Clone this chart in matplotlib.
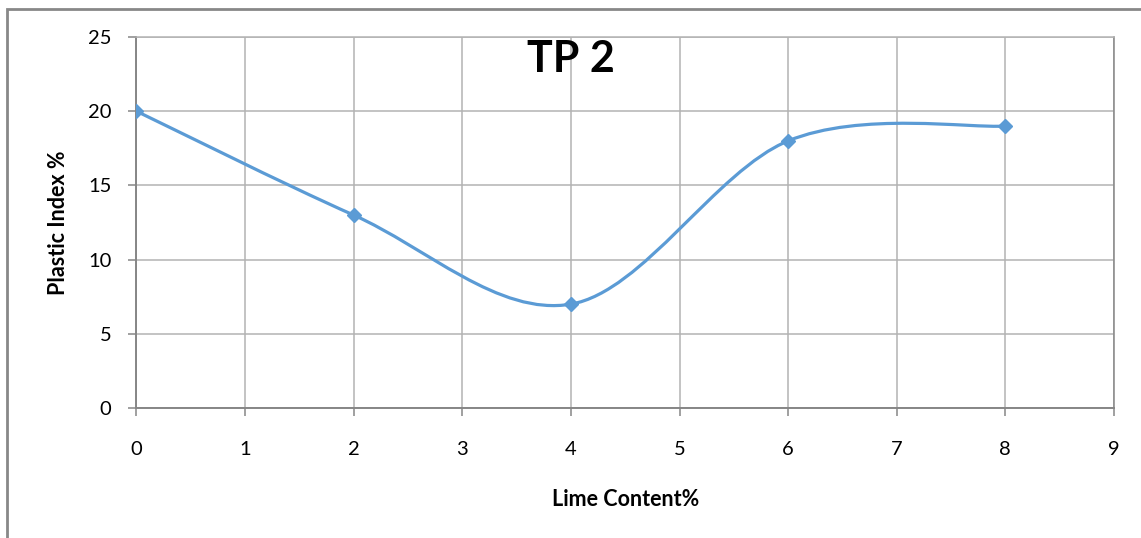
import numpy as np
import matplotlib
matplotlib.use("Agg")
import matplotlib.pyplot as plt
from matplotlib.path import Path
from matplotlib.patches import PathPatch, Rectangle

lime = [0, 2, 4, 6, 8]
plastic_index = [20, 13, 7, 18, 19]
x_ticks = list(range(0, 10))
y_ticks = [0, 5, 10, 15, 20, 25]

plt.rcParams['font.family'] = ['Lato', 'DejaVu Sans']

line_color = '#5B9BD5'
grid_color = '#B3B3B3'
axis_color = '#868686'


def smooth_path(xs, ys):
    # Excel-style smoothed line: cubic Bezier segments with Catmull-Rom control points
    pts = np.column_stack([xs, ys]).astype(float)
    n = len(pts)
    verts = [pts[0]]
    codes = [Path.MOVETO]
    for i in range(n - 1):
        p0 = pts[max(i - 1, 0)]
        p1 = pts[i]
        p2 = pts[i + 1]
        p3 = pts[min(i + 2, n - 1)]
        c1 = p1 + (p2 - p0) / 6.0
        c2 = p2 - (p3 - p1) / 6.0
        verts += [c1, c2, p2]
        codes += [Path.CURVE4] * 3
    return Path(verts, codes)


fig = plt.figure(figsize=(11.41, 5.38), dpi=100)
ax = fig.add_axes([0.1196, 0.2416, 0.8567, 0.6896])

patch = PathPatch(smooth_path(lime, plastic_index), fill=False,
                  edgecolor=line_color, linewidth=2.3, capstyle='round',
                  joinstyle='round', zorder=3)
ax.add_patch(patch)
ax.plot(lime, plastic_index, linestyle='none', marker='D', markersize=7,
        color=line_color, zorder=4)

ax.set_xlim(0, 9)
ax.set_ylim(0, 25)
ax.set_xticks(x_ticks)
ax.set_yticks(y_ticks)
ax.grid(True, color=grid_color, linewidth=1.1)
ax.set_axisbelow(True)

for side in ['top', 'right']:
    ax.spines[side].set_color(grid_color)
    ax.spines[side].set_linewidth(1.1)
for side in ['left', 'bottom']:
    ax.spines[side].set_color(axis_color)
    ax.spines[side].set_linewidth(1.4)
ax.spines['right'].set_color(axis_color)

ax.tick_params(axis='both', direction='out', length=6, width=1.1,
               color=axis_color, labelsize=14.5)
ax.tick_params(axis='x', pad=18)
ax.tick_params(axis='y', pad=12)

ax.set_xlabel('Lime Content%', fontsize=15.5, fontweight='bold', labelpad=22)
ax.set_ylabel('Plastic Index %', fontsize=15.5, fontweight='bold', labelpad=14)
ax.text(4.0, 23.55, 'TP 2', fontsize=31, fontweight='bold', ha='center',
        va='center')

fig.patches.append(Rectangle((7 / 1141, -0.05), 1.2, 1 - 9 / 538 + 0.05,
                             transform=fig.transFigure, fill=False,
                             edgecolor='#888888', linewidth=2))

fig.savefig('out.png', dpi=100)
